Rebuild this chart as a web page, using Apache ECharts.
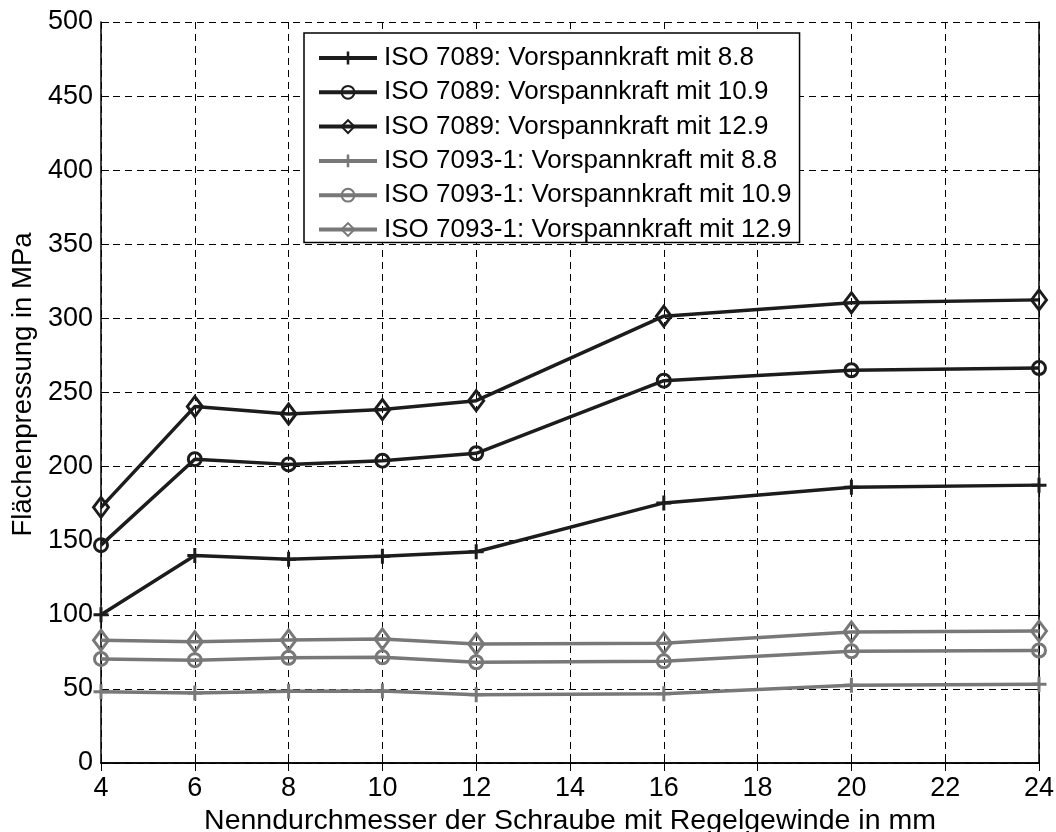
<!DOCTYPE html>
<html>
<head>
<meta charset="utf-8">
<script src="https://cdn.jsdelivr.net/npm/echarts@6/dist/echarts.min.js"></script>
<style>
  html, body { margin: 0; padding: 0; background: #fff; }
  #chart { width: 1056px; height: 832px; }
</style>
</head>
<body>
<div id="chart"></div>
<script>
// Nominal thread diameters (mm)
const diameters = [4, 6, 8, 10, 12, 16, 20, 24];

// Surface pressure (MPa) – ISO 7089 washers
const iso7089_88  = [100, 140, 137.5, 139.5, 142.5, 175.5, 186, 187.5];
const iso7089_109 = [147, 205, 201.5, 204, 209, 258, 265, 266.5];
const iso7089_129 = [172.5, 240.5, 235.5, 238.5, 244.5, 301.5, 310.5, 312.5];

// Surface pressure (MPa) – ISO 7093-1 washers
const iso7093_88  = [48, 47.3, 48.4, 48.6, 46, 46.8, 52.5, 53.2];
const iso7093_109 = [70.2, 69.4, 71, 71.3, 68, 68.6, 75.4, 75.9];
const iso7093_129 = [82.8, 81.8, 83, 83.7, 80.3, 80.8, 88.4, 89];

const seriesNames = [
  'ISO 7089: Vorspannkraft mit 8.8',
  'ISO 7089: Vorspannkraft mit 10.9',
  'ISO 7089: Vorspannkraft mit 12.9',
  'ISO 7093-1: Vorspannkraft mit 8.8',
  'ISO 7093-1: Vorspannkraft mit 10.9',
  'ISO 7093-1: Vorspannkraft mit 12.9'
];

const BLACK = '#1c1c1c';
const GRAY = '#787878';
const FONT = 'Liberation Sans, Arial, sans-serif';

// Plus-shaped marker
const PLUS = 'path://M-1.6,-8 L1.6,-8 L1.6,-1.6 L8,-1.6 L8,1.6 L1.6,1.6 L1.6,8 L-1.6,8 L-1.6,1.6 L-8,1.6 L-8,-1.6 L-1.6,-1.6 Z';

function pairs(vals) {
  return diameters.map((d, i) => [d, vals[i]]);
}

function makeSeries(name, vals, color, marker) {
  let symbol, symbolSize, itemStyle;
  if (marker === 'plus') {
    symbol = PLUS; symbolSize = 15;
    itemStyle = { color: color, borderWidth: 0 };
  } else if (marker === 'circle') {
    symbol = 'circle'; symbolSize = 13;
    itemStyle = { color: 'rgba(255,255,255,0)', borderColor: color, borderWidth: 3 };
  } else {
    symbol = 'diamond'; symbolSize = [15, 20];
    itemStyle = { color: 'rgba(255,255,255,0)', borderColor: color, borderWidth: 3 };
  }
  return {
    name: name,
    type: 'line',
    data: pairs(vals),
    symbol: symbol,
    symbolSize: symbolSize,
    showAllSymbol: true,
    lineStyle: { color: color, width: 3.5 },
    itemStyle: itemStyle,
    emphasis: { disabled: true },
    animation: false,
    z: 3
  };
}

const gridLine = { show: true, lineStyle: { color: '#000', type: [7, 5], width: 1 } };
const frameAxisLine = { show: true, lineStyle: { color: '#000', width: 1.5 } };
const innerTick = { show: true, inside: true, length: 8, lineStyle: { color: '#000' } };

const chart = echarts.init(document.getElementById('chart'), null, { renderer: 'canvas' });
chart.setOption({
  backgroundColor: '#fff',
  animation: false,
  textStyle: { fontFamily: FONT },
  grid: { left: 101, right: 17, top: 22, bottom: 69, containLabel: false, outerBoundsMode: 'none' },
  legend: {
    orient: 'vertical',
    left: 304,
    top: 33,
    backgroundColor: '#fff',
    borderColor: '#000',
    borderWidth: 1.5,
    borderRadius: 0,
    padding: [12, 8, 0, 13],
    itemGap: 8.3,
    itemWidth: 58,
    itemHeight: 16,
    selectedMode: false,
    lineStyle: { width: 4 },
    textStyle: { fontFamily: FONT, fontSize: 26, color: '#000', padding: [0, 0, 0, 2] },
    data: seriesNames
  },
  xAxis: [{
    type: 'value',
    min: 4, max: 24, interval: 2,
    name: 'Nenndurchmesser der Schraube mit Regelgewinde in mm',
    nameLocation: 'middle',
    nameGap: 38,
    nameTextStyle: { fontFamily: FONT, fontSize: 28.5, color: '#000' },
    axisLine: frameAxisLine,
    axisTick: innerTick,
    axisLabel: { fontFamily: FONT, fontSize: 27, color: '#000', margin: 12 },
    splitLine: gridLine
  }, {
    type: 'value', position: 'top',
    min: 4, max: 24, interval: 2,
    axisLine: frameAxisLine,
    axisTick: innerTick,
    axisLabel: { show: false },
    splitLine: { show: false }
  }],
  yAxis: [{
    type: 'value',
    min: 0, max: 500, interval: 50,
    name: 'Flächenpressung in MPa',
    nameLocation: 'middle',
    nameGap: 64,
    nameRotate: 90,
    nameTextStyle: { fontFamily: FONT, fontSize: 27.5, color: '#000', padding: [0, 0, 0, 16] },
    axisLine: frameAxisLine,
    axisTick: innerTick,
    axisLabel: { fontFamily: FONT, fontSize: 27, color: '#000', margin: 8 },
    splitLine: gridLine
  }, {
    type: 'value', position: 'right',
    min: 0, max: 500, interval: 50,
    axisLine: frameAxisLine,
    axisTick: innerTick,
    axisLabel: { show: false },
    splitLine: { show: false }
  }],
  series: [
    makeSeries(seriesNames[0], iso7089_88, BLACK, 'plus'),
    makeSeries(seriesNames[1], iso7089_109, BLACK, 'circle'),
    makeSeries(seriesNames[2], iso7089_129, BLACK, 'diamond'),
    makeSeries(seriesNames[3], iso7093_88, GRAY, 'plus'),
    makeSeries(seriesNames[4], iso7093_109, GRAY, 'circle'),
    makeSeries(seriesNames[5], iso7093_129, GRAY, 'diamond')
  ]
});
</script>
</body>
</html>
